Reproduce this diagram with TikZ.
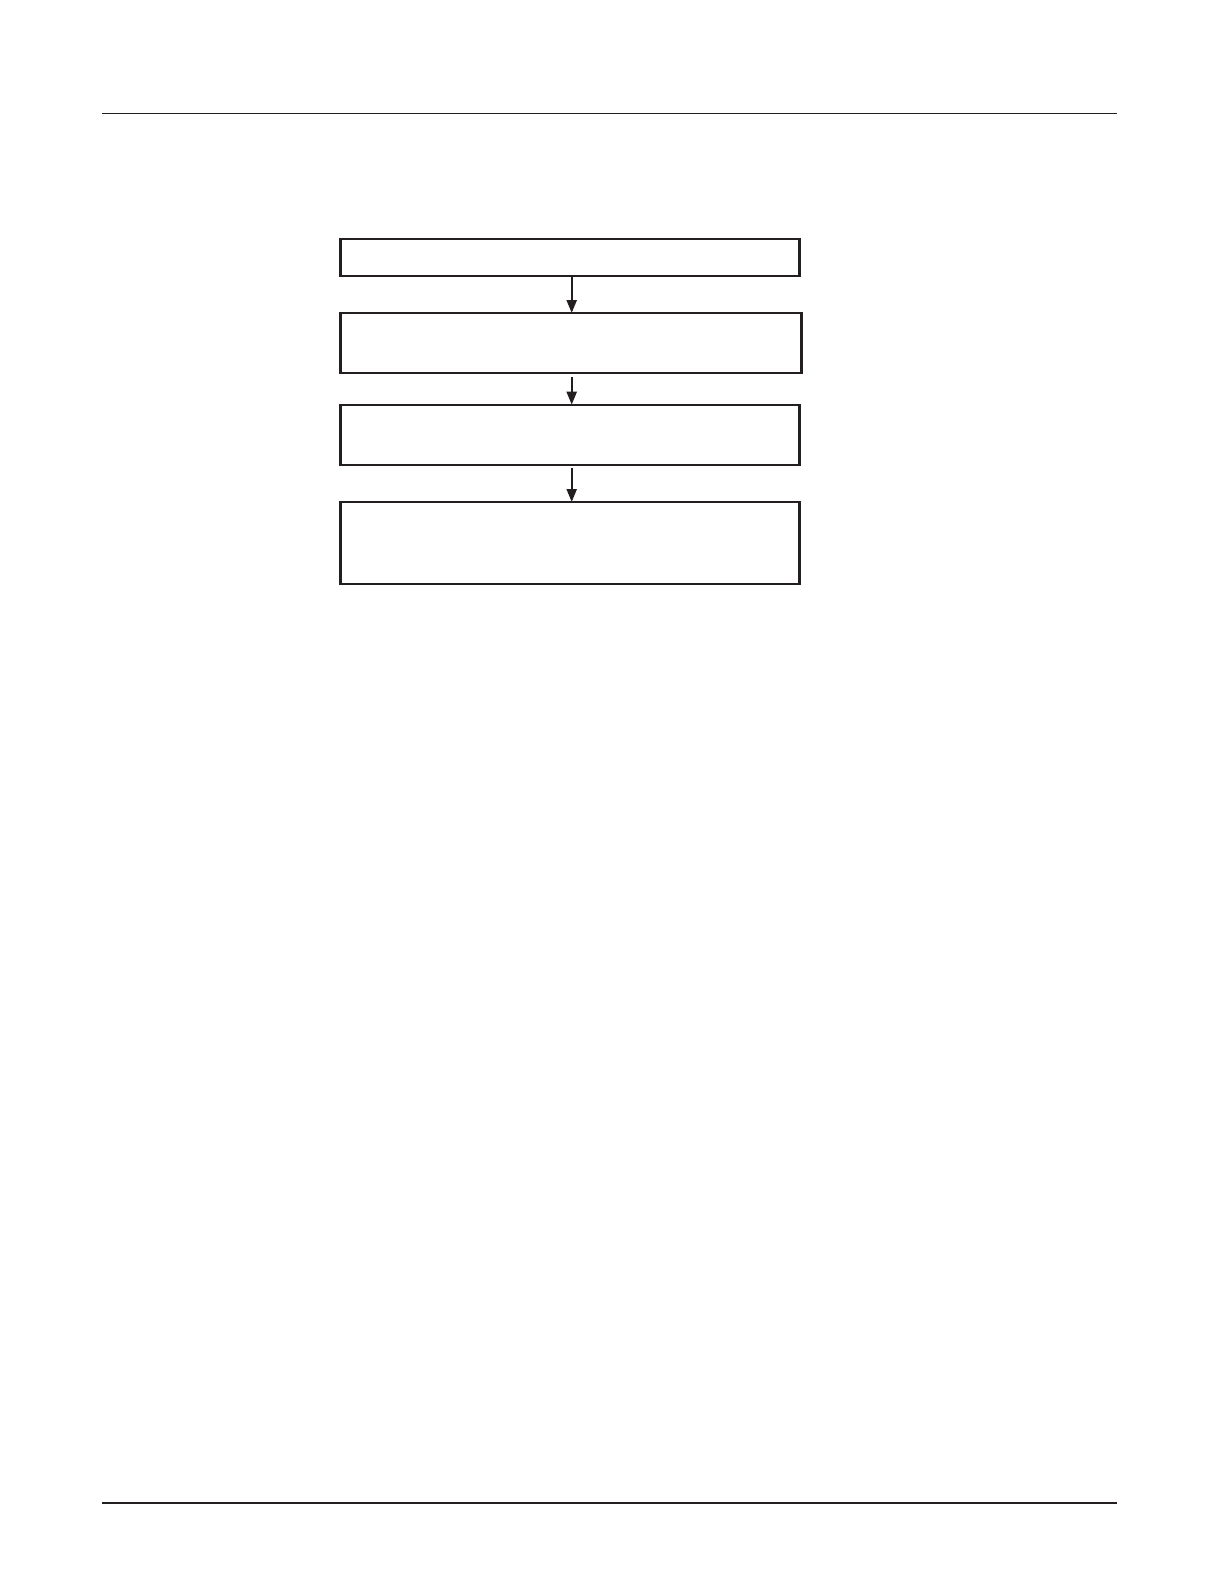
\documentclass[tikz,border=0pt]{standalone}
\usetikzlibrary{arrows.meta}
\definecolor{ink}{HTML}{231F20}
\begin{document}
\begin{tikzpicture}[x=0.5pt,y=-0.5pt,
  flowbox/.style={draw=ink,line width=1.2pt,rectangle,inner sep=0pt,outer sep=0pt},
  flowarrow/.style={draw=ink,line width=1.1pt,-{Triangle[length=6.5pt,width=5pt]}},
  rule/.style={draw=ink}]
\useasboundingbox (0,0) rectangle (1219,1587);
\coordinate (tl) at (102,113.5);
\coordinate (tr) at (1117,113.5);
\coordinate (bl) at (102,1502.7);
\coordinate (br) at (1117,1502.7);
\draw[rule,line width=0.65pt] (tl) -- (tr);
\draw[rule,line width=1pt] (bl) -- (br);
\node[flowbox,minimum width=229.5pt,minimum height=18.5pt] (b1) at (570.1,257.5) {};
\node[flowbox,minimum width=230.5pt,minimum height=30pt] (b2) at (571.1,343) {};
\node[flowbox,minimum width=229.5pt,minimum height=30.2pt] (b3) at (570.1,434.9) {};
\node[flowbox,minimum width=229.5pt,minimum height=41pt] (b4) at (570.1,543) {};
\coordinate (ax) at (571.7,0);
\draw[flowarrow] (b1.south -| ax) -- (b2.north -| ax);
\draw[flowarrow,shorten <=2pt] (b2.south -| ax) -- (b3.north -| ax);
\draw[flowarrow,shorten <=1.5pt] (b3.south -| ax) -- (b4.north -| ax);
\end{tikzpicture}
\end{document}
